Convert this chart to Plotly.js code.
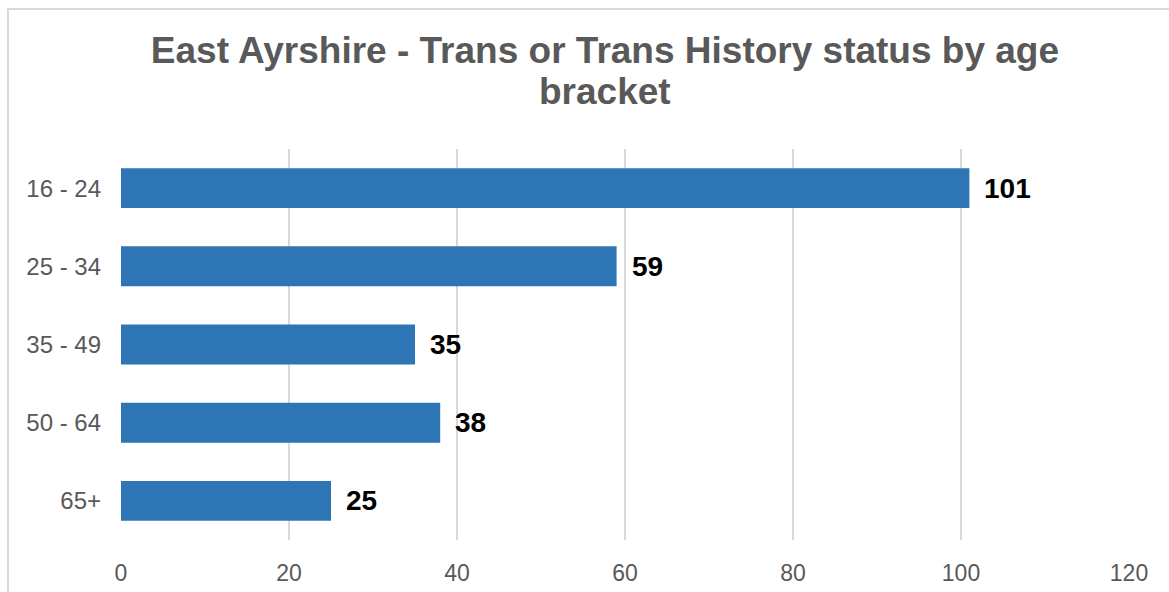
<!DOCTYPE html>
<html>
<head>
<meta charset="utf-8">
<script src="https://cdn.plot.ly/plotly-3.0.1.min.js"></script>
<style>
  body { margin: 0; background: #fff; overflow: hidden; }
  #frame { position: absolute; left: 7px; top: 8px; width: 1180px; height: 620px; border: 2px solid #d9d9d9; }
  #chart { position: absolute; left: 0; top: 0; width: 1169px; height: 592px; }
</style>
</head>
<body>
<div id="frame"></div>
<div id="chart"></div>
<script>
// age brackets and counts
var age_brackets = ['16 - 24', '25 - 34', '35 - 49', '50 - 64', '65+'];
var counts = [101, 59, 35, 38, 25];
var x_ticks = [0, 20, 40, 60, 80, 100, 120];

var title_font = { family: 'Liberation Sans, Arial, sans-serif', size: 37, color: '#595959', weight: 'bold' };

var trace = {
	type: 'bar',
	orientation: 'h',
	x: counts,
	y: age_brackets,
	marker: { color: '#2E75B6' },
	hoverinfo: 'none'
};

// value labels just past the end of each bar
var labels = counts.map(function(v, i){
	return {
		x: v, y: age_brackets[i],
		xref: 'x', yref: 'y',
		text: String(v),
		showarrow: false,
		xanchor: 'left',
		xshift: 13,
		font: { family: 'Liberation Sans, Arial, sans-serif', size: 28, color: '#000000', weight: 'bold' }
	};
});

// second title line, set tighter than plotly's own line spacing
labels.push({
	x: 0.48, y: 1.146,
	xref: 'paper', yref: 'paper',
	xanchor: 'center', yanchor: 'middle',
	text: 'bracket',
	showarrow: false,
	font: title_font
});

var layout = {
	width: 1169,
	height: 592,
	margin: { l: 121, r: 40, t: 149, b: 52 },
	paper_bgcolor: 'rgba(0,0,0,0)',
	plot_bgcolor: 'rgba(0,0,0,0)',
	showlegend: false,
	bargap: 0.49,
	title: {
		text: 'East Ayrshire - Trans or Trans History status by age',
		x: 0.5175, xanchor: 'center',
		y: 0.9155, yanchor: 'middle',
		font: title_font
	},
	xaxis: {
		range: [0, 120],
		tickvals: x_ticks,
		showgrid: true,
		gridcolor: '#d9d9d9',
		gridwidth: 2,
		zeroline: false,
		showline: false,
		ticks: '',
		ticklabelstandoff: 17,
		tickfont: { family: 'Liberation Sans, Arial, sans-serif', size: 23, color: '#595959' }
	},
	yaxis: {
		categoryorder: 'array',
		categoryarray: age_brackets.slice().reverse(),
		showgrid: false,
		zeroline: false,
		showline: false,
		ticks: '',
		ticklabelstandoff: 19,
		tickfont: { family: 'Liberation Sans, Arial, sans-serif', size: 24, color: '#595959' }
	},
	annotations: labels
};

Plotly.newPlot('chart', [trace], layout, { displayModeBar: false, staticPlot: true });
</script>
</body>
</html>
